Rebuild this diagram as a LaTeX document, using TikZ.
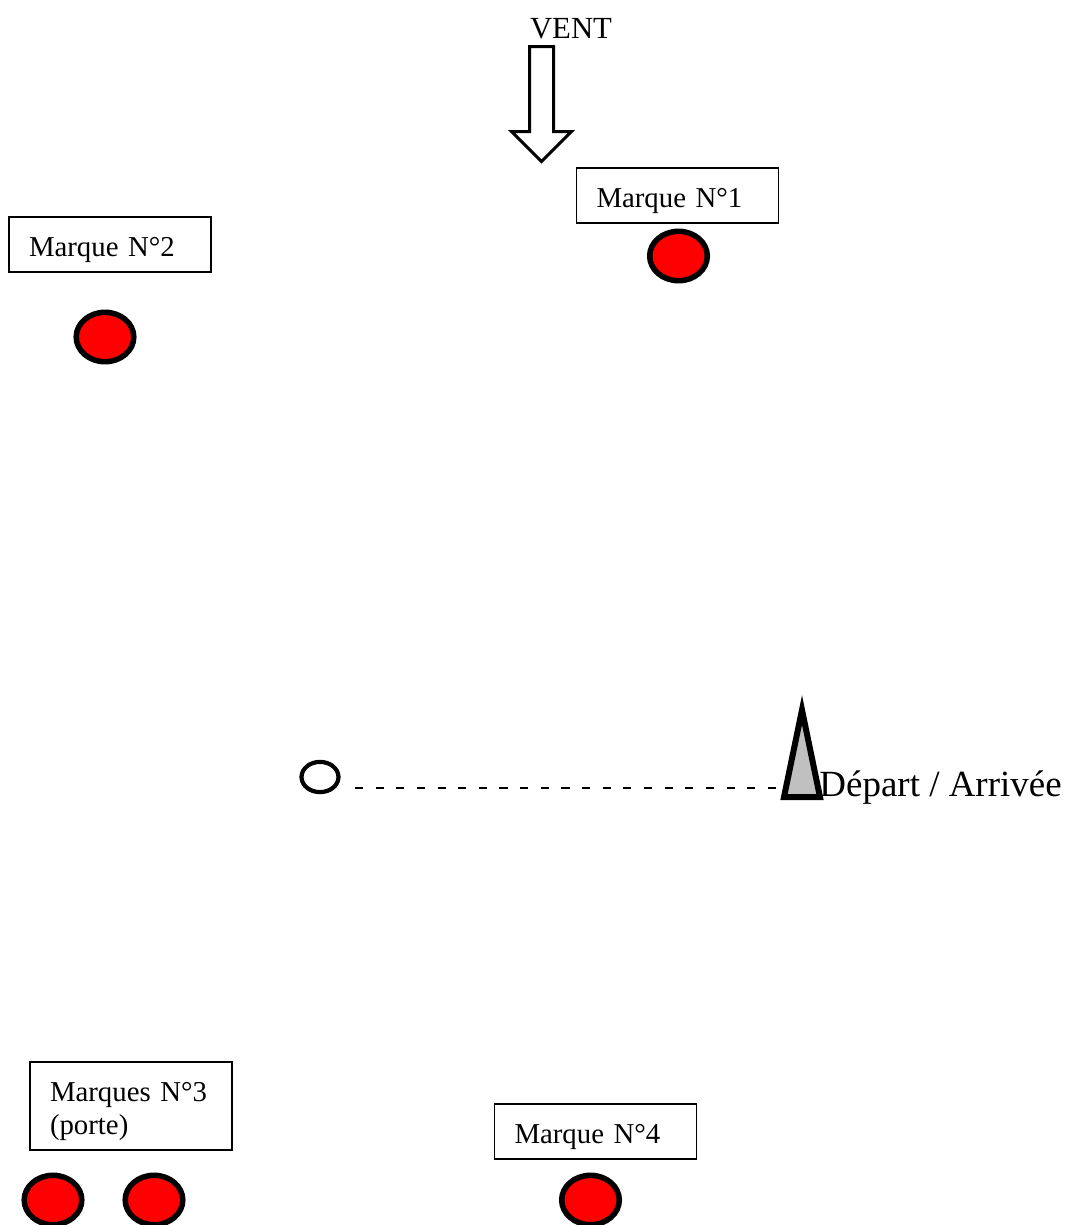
\documentclass[tikz,border=0pt]{standalone}
\usepackage{fontspec}
\setmainfont{Liberation Serif}
\usetikzlibrary{shapes.geometric,positioning,calc}
\definecolor{buoyred}{RGB}{255,0,0}
\definecolor{flaggray}{RGB}{192,192,192}

\begin{document}
\begin{tikzpicture}[x=0.41667pt,y=-0.41667pt,
	markbox/.style={draw,rectangle,line width=0.6pt,minimum width=84.2pt,minimum height=22.9pt,
		text width=67.5pt,inner xsep=8.35pt,inner ysep=0pt,text height=10.3pt,text depth=0.3pt,
		align=left,font=\fontsize{12}{13.8}\selectfont},
	buoy/.style={draw,ellipse,fill=buoyred,line width=2.3pt,minimum width=24pt,minimum height=20.6pt,inner sep=0pt},
	startbuoy/.style={draw,ellipse,fill=white,line width=1.75pt,minimum width=15.4pt,minimum height=12.6pt,inner sep=0pt},
	course/.style={line width=0.8pt,dash pattern=on 3.4pt off 5.2pt}]
	\useasboundingbox (0,0) rectangle (1065,1225);

	% vent
	\node[anchor=base,font=\fontsize{12.8}{14}\selectfont] (vent) at (571,38) {VENT};
	\draw[line width=1.25pt,fill=white,miter limit=10]
		(529.5,46.5) -- (553.5,46.5) -- (553.5,131.5) -- (571.5,131.5) -- (541.5,161.5)
		-- (511.5,131.5) -- (529.5,131.5) -- cycle;

	% marques
	\node[markbox] (box1) at (677.5,195.5) {Marque N°1};
	\node[buoy   ] (mark1) at (678.5,256) {};
	\node[markbox] (box2) at (110,244.5) {Marque N°2};
	\node[buoy   ] (mark2) at (105,337) {};
	\node[markbox,minimum height=36.7pt,text depth=14.1pt] (box3) at (131,1106) {Marques N°3\\(porte)};
	\node[buoy   ] (mark3a) at (53,1200) {};
	\node[buoy   ] (mark3b) at (154,1200) {};
	\node[markbox] (box4) at (595.5,1131.5) {Marque N°4};
	\node[buoy   ] (mark4) at (590.5,1200) {};

	% ligne de depart
	\node[startbuoy] (start) at (320,777) {};
	\coordinate (dashstart) at (355,788);
	\coordinate (dashend)   at (782,788);
	\draw[course] (dashstart) -- (dashend);
	\coordinate (flagtip)   at (802,710);
	\coordinate (flagleft)  at (784,797);
	\coordinate (flagright) at (820,797);
	\draw[line width=2.5pt,fill=flaggray] (flagtip) -- (flagright) -- (flagleft) -- cycle;
	\node[anchor=base west,inner sep=0pt,font=\fontsize{15.4}{17}\selectfont] (finish) at (819,796) {Départ / Arrivée};
\end{tikzpicture}
\end{document}
